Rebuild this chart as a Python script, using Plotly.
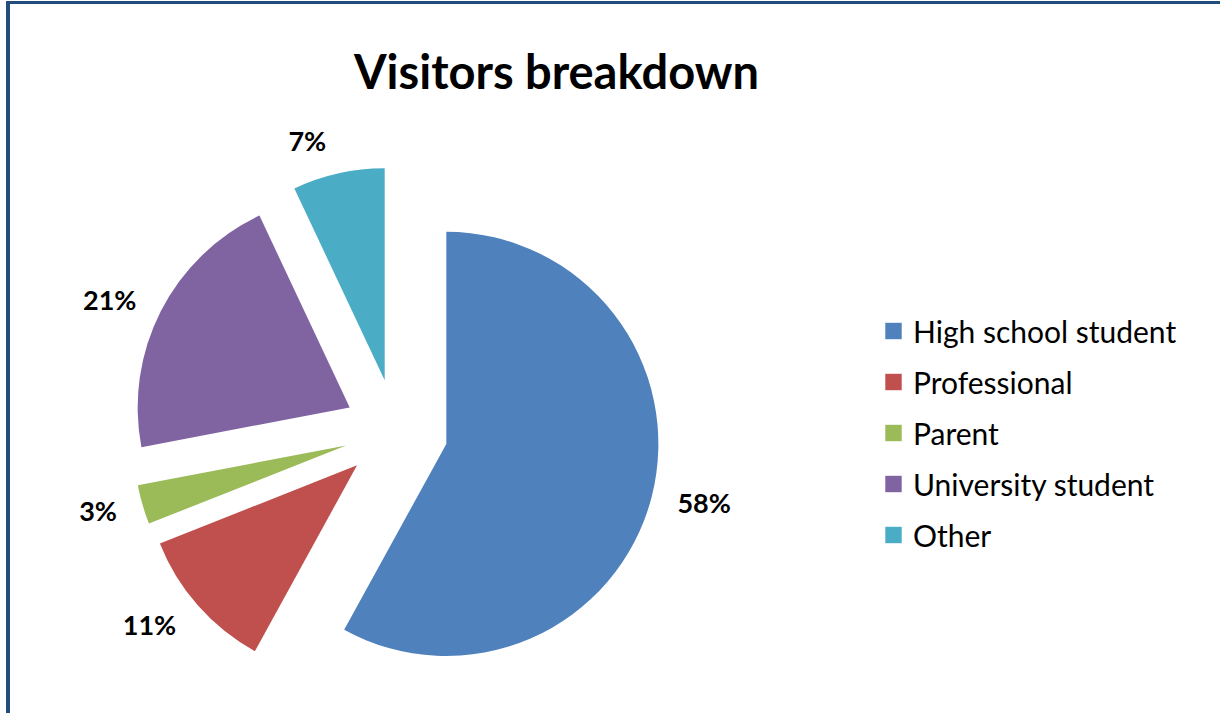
import plotly.graph_objects as go

# Visitor categories and their share (%)
categories = ["High school student", "Professional", "Parent", "University student", "Other"]
shares = [58, 11, 3, 21, 7]
colors = ["#4F81BD", "#C0504D", "#9BBB59", "#8064A2", "#4BACC6"]

W, H = 1220, 713
FONT = "Lato"

common = dict(labels=categories, values=shares, sort=False,
              direction="clockwise", rotation=0, showlegend=False)

fig = go.Figure()

# Transparent, slightly larger pie that only carries the percentage labels,
# so they sit a little further out from the visible slices
fig.add_trace(go.Pie(
    **common,
    pull=[0.2257] * len(shares),
    marker=dict(colors=["rgba(0,0,0,0)"] * len(shares), line=dict(width=0)),
    textinfo="percent",
    texttemplate="%{percent:.0%}",
    textposition="outside",
    outsidetextfont=dict(family=FONT, size=27, color="#000000", weight="bold"),
    hoverinfo="skip",
    domain=dict(x=[112 / W, 680 / W], y=[0, 564 / H]),
))

# Visible exploded pie
fig.add_trace(go.Pie(
    **common,
    pull=[0.245] * len(shares),
    marker=dict(colors=colors, line=dict(width=0)),
    textinfo="none",
    hoverinfo="label+percent",
    domain=dict(x=[132 / W, 660 / W], y=[18 / H, 546 / H]),
))

shapes = []
annotations = []

# Frame lines along the top and left edges
frame_color = "#234B7C"
shapes.append(dict(type="rect", xref="paper", yref="paper",
                   x0=6 / W, x1=10 / W, y0=0, y1=1 - 1 / H,
                   fillcolor=frame_color, line=dict(width=0), layer="above"))
shapes.append(dict(type="rect", xref="paper", yref="paper",
                   x0=6 / W, x1=1, y0=1 - 4 / H, y1=1 - 1 / H,
                   fillcolor=frame_color, line=dict(width=0), layer="above"))

# Legend: one colour swatch and label per category
legend_x, legend_top, legend_step, swatch = 885, 331, 51, 17
for i, (name, col) in enumerate(zip(categories, colors)):
    yc = legend_top + i * legend_step
    shapes.append(dict(type="rect", xref="paper", yref="paper",
                       x0=legend_x / W, x1=(legend_x + swatch) / W,
                       y0=1 - (yc + swatch / 2) / H, y1=1 - (yc - swatch / 2) / H,
                       fillcolor=col, line=dict(color="rgba(255,255,255,0.6)", width=1)))
    annotations.append(dict(xref="paper", yref="paper",
                            x=(legend_x + swatch + 9) / W, y=1 - yc / H,
                            xanchor="left", yanchor="middle", showarrow=False,
                            text=name, font=dict(family=FONT, size=30, color="#000000")))

fig.update_layout(
    width=W,
    height=H,
    margin=dict(l=0, r=0, t=0, b=0, pad=0, autoexpand=False),
    paper_bgcolor="#FFFFFF",
    plot_bgcolor="#FFFFFF",
    title=dict(text="<b>Visitors breakdown</b>", x=556.5 / W, y=1 - 73 / H,
               xanchor="center", yanchor="middle",
               font=dict(family=FONT, size=47, color="#000000")),
    shapes=shapes,
    annotations=annotations,
)

fig.write_html("out.html")
